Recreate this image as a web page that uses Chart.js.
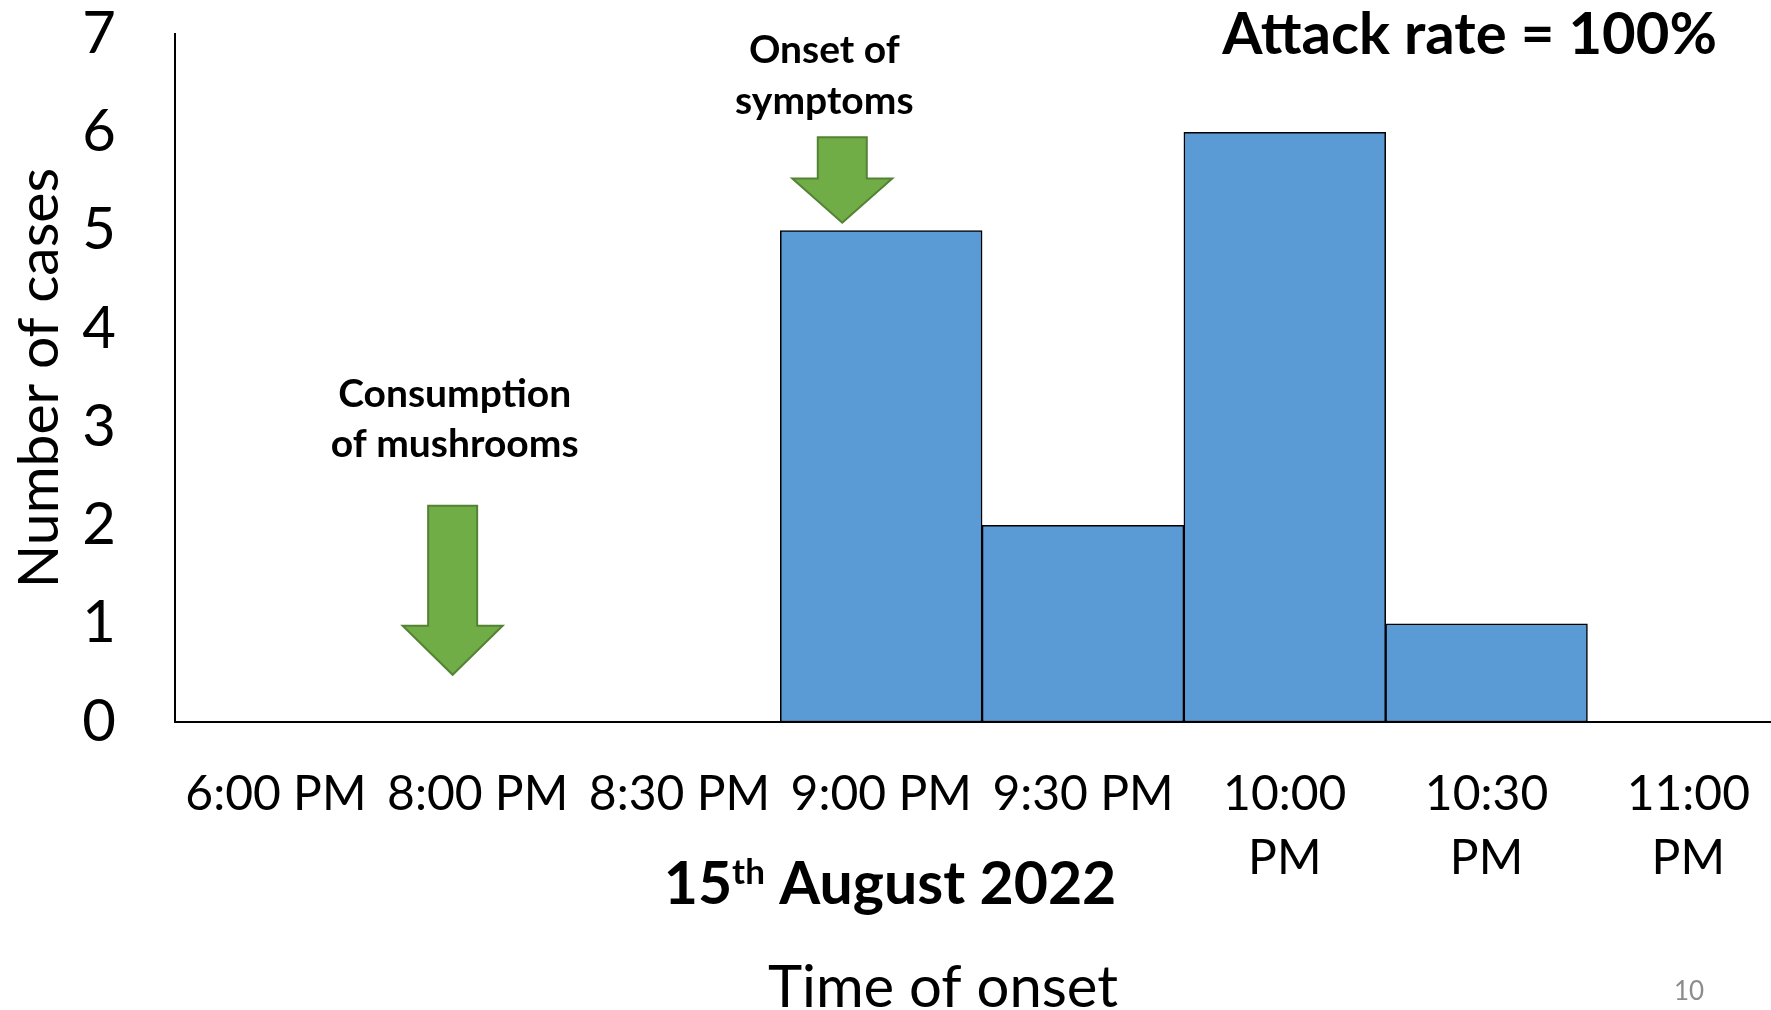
<!DOCTYPE html>
<html><head><meta charset="utf-8">
<script src="https://cdn.jsdelivr.net/npm/chart.js@4.4.0/dist/chart.umd.min.js"></script>
<style>
html,body{margin:0;padding:0;background:#fff;overflow:hidden;width:1771px;height:1010px;}
#wrap{position:absolute;left:0;top:0;width:1791px;height:1010px;}
canvas{display:block;}
</style></head><body>
<div id="wrap"><canvas id="c" width="1791" height="1010"></canvas></div>
<script>
// ---- data ----
const categories = ['6:00 PM', '8:00 PM', '8:30 PM', '9:00 PM', '9:30 PM', '10:00 PM', '10:30 PM', '11:00 PM'];
const cases = [0, 0, 0, 5, 2, 6, 1, 0];
const yTicks = [0, 1, 2, 3, 4, 5, 6, 7];
const yAxisTitle = 'Number of cases';
const xAxisTitle = 'Time of onset';
const dateParts = ['15', 'th', ' August 2022'];
const attackRateText = 'Attack rate = 100%';
const arrowLabels = [['Consumption', 'of mushrooms'], ['Onset of', 'symptoms']];
const pageNumber = '10';

// ---- annotation placement (data coordinates) ----
const arrowSpecs = [
  {x: 0.876, tip: 0.48, headBase: 0.98, top: 2.2, labelX: 0.886, labelY: [3.33, 2.82]},
  {x: 2.807, tip: 5.08, headBase: 5.53, top: 5.95, labelX: 2.718, labelY: [6.83, 6.31]}
];

const FONT = 'Lato, "Open Sans", sans-serif';

const annotationPlugin = {
  id: 'annot',
  afterDraw(chart) {
    const ctx = chart.ctx;
    const xs = chart.scales.x, ys = chart.scales.y;
    const area = chart.chartArea;
    ctx.save();
    // arrows
    arrowSpecs.forEach((a, i) => {
      const cx = xs.getPixelForValue(a.x);
      const tipY = ys.getPixelForValue(a.tip);
      const baseY = ys.getPixelForValue(a.headBase);
      const topY = ys.getPixelForValue(a.top);
      const sw = 24.5, hw = 50;
      ctx.beginPath();
      ctx.moveTo(cx - sw, topY);
      ctx.lineTo(cx + sw, topY);
      ctx.lineTo(cx + sw, baseY);
      ctx.lineTo(cx + hw, baseY);
      ctx.lineTo(cx, tipY);
      ctx.lineTo(cx - hw, baseY);
      ctx.lineTo(cx - sw, baseY);
      ctx.closePath();
      ctx.fillStyle = '#70AD47';
      ctx.fill();
      ctx.lineWidth = 2;
      ctx.strokeStyle = '#548235';
      ctx.lineJoin = 'miter';
      ctx.stroke();
      // labels
      ctx.fillStyle = '#000';
      ctx.font = 'bold 39px ' + FONT;
      ctx.textAlign = 'center';
      ctx.textBaseline = 'middle';
      const lx = xs.getPixelForValue(a.labelX);
      arrowLabels[i].forEach((t, k) => ctx.fillText(t, lx, ys.getPixelForValue(a.labelY[k])));
    });
    // attack rate
    ctx.font = 'bold 58px ' + FONT;
    ctx.textAlign = 'center';
    ctx.textBaseline = 'middle';
    ctx.fillStyle = '#000';
    ctx.fillText(attackRateText, xs.getPixelForValue(5.916), ys.getPixelForValue(7) + 1);

    // y axis title
    ctx.save();
    ctx.translate(area.left - 135, (area.top + area.bottom) / 2);
    ctx.rotate(-Math.PI / 2);
    ctx.font = '57px ' + FONT;
    ctx.textAlign = 'center';
    ctx.textBaseline = 'middle';
    ctx.fillText(yAxisTitle, 0, 0);
    ctx.restore();

    // date with superscript
    const big = 'bold 59px ' + FONT, small = 'bold 35px ' + FONT;
    ctx.font = big; const w1 = ctx.measureText(dateParts[0]).width; const w3 = ctx.measureText(dateParts[2]).width;
    ctx.font = small; const w2 = ctx.measureText(dateParts[1]).width;
    const total = w1 + w2 + w3;
    const dcx = 890, dcy = area.bottom + 161;
    let x0 = dcx - total / 2;
    ctx.textAlign = 'left';
    ctx.textBaseline = 'alphabetic';
    const baseLine = dcy + 21;
    ctx.font = big; ctx.fillText(dateParts[0], x0, baseLine);
    ctx.font = small; ctx.fillText(dateParts[1], x0 + w1, baseLine - 20);
    ctx.font = big; ctx.fillText(dateParts[2], x0 + w1 + w2, baseLine);

    // x axis title
    ctx.font = '58px ' + FONT;
    ctx.textAlign = 'center';
    ctx.textBaseline = 'middle';
    ctx.fillText(xAxisTitle, 943, area.bottom + 266);

    // page number
    ctx.font = '26px ' + FONT;
    ctx.fillStyle = '#8c8c8c';
    ctx.fillText(pageNumber, 1689, 992);
    ctx.restore();
  }
};

new Chart(document.getElementById('c'), {
  type: 'bar',
  data: {
    labels: categories,
    datasets: [{
      data: cases,
      backgroundColor: '#5B9BD5',
      borderColor: '#000',
      borderWidth: 1.5,
      borderSkipped: false,
      barPercentage: 1,
      categoryPercentage: 1
    }]
  },
  options: {
    responsive: false,
    animation: false,
    devicePixelRatio: 1,
    layout: {padding: {top: 34, left: 0, right: 0, bottom: 0}},
    plugins: {legend: {display: false}, tooltip: {enabled: false}, title: {display: false}},
    scales: {
      x: {
        offset: true,
        grid: {display: false, drawTicks: false},
        border: {display: true, color: '#000', width: 2},
        ticks: {
          color: '#000',
          font: {family: FONT, size: 48, lineHeight: 1.33},
          padding: 41,
          autoSkip: false,
          maxRotation: 0,
          minRotation: 0,
          callback: function (v, i) {
            const s = this.getLabelForValue(v);
            return s.length > 7 ? s.split(' ') : s;
          }
        },
        afterFit: s => { s.height = 1010 - 722; }
      },
      y: {
        min: 0, max: 7,
        grid: {display: false, drawTicks: true, tickLength: 56},
        border: {display: true, color: '#000', width: 2},
        afterBuildTicks: s => { s.ticks = yTicks.map(v => ({value: v})); },
        ticks: {
          color: '#000',
          font: {family: FONT, size: 58, lineHeight: 1},
          padding: 3
        },
        afterFit: s => { s.width = 175; }
      }
    }
  },
  plugins: [annotationPlugin]
});
</script>
</body></html>
